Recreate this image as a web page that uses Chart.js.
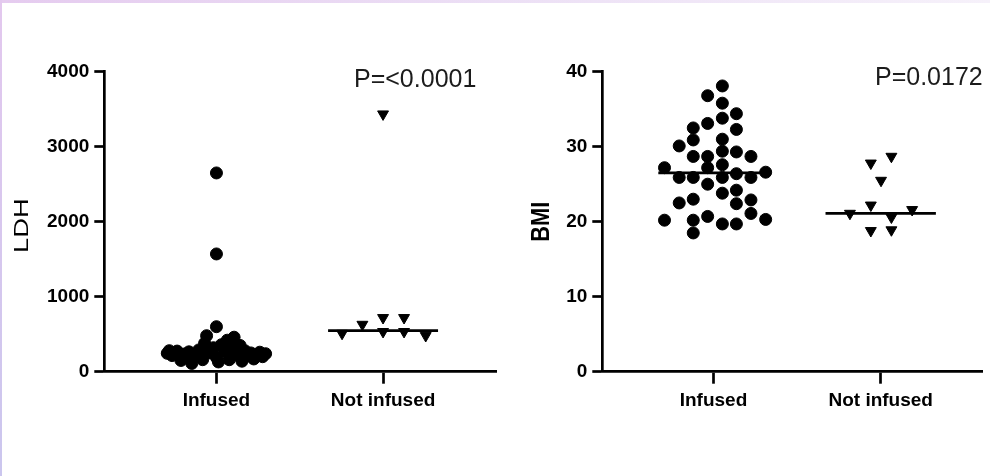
<!DOCTYPE html>
<html lang="en">
<head>
  <meta charset="UTF-8">
  <title>LDH and BMI, infused vs not infused</title>
  <script src="https://cdn.jsdelivr.net/npm/chart.js"></script>
  <style>
    body {
      margin: 0;
      width: 990px;
      height: 476px;
      background: #ffffff;
      position: relative;
      overflow: hidden;
    }
    .edge-top {
      position: absolute; left: 0; top: 0;
      width: 990px; height: 3px;
      background: linear-gradient(to right, #e5cbef, #ecdff5 50%, #f6f1fa);
    }
    .edge-left {
      position: absolute; left: 0; top: 0;
      width: 2px; height: 476px;
      background: linear-gradient(to bottom, #e3c8ee, #cbc6ee);
    }
    canvas { position: absolute; top: 0; }
    #ldhChart { left: 0; }
    #bmiChart { left: 503px; }
  </style>
</head>
<body>
  <canvas id="ldhChart" width="504" height="476"></canvas>
  <canvas id="bmiChart" width="487" height="476"></canvas>
  <div class="edge-top"></div>
  <div class="edge-left"></div>

  <script>
    // Groups on the x axis
    const groups = ['Infused', 'Not infused'];

    // LDH - infused (values, and horizontal spread in group units)
    const ldhInfused = [2650, 1570, 600,
      245, 280, 215, 275, 150, 235, 190, 265, 110, 200, 290, 160, 380, 480, 250, 320,
      190, 130, 360, 270, 420, 160, 310, 460, 220, 350, 140, 280, 210, 250, 170, 230,
      260, 200, 240, 215, 225];
    const ldhInfusedSpread = [0, 0, 0,
      -0.295, -0.283, -0.266, -0.236, -0.213, -0.195, -0.177, -0.165, -0.148, -0.130, -0.106, -0.083, -0.071, -0.059, -0.045, -0.018,
      0, 0.012, 0.030, 0.047, 0.065, 0.077, 0.094, 0.106, 0.124, 0.142, 0.153, 0.171, 0.189, 0.207, 0.224, 0.242,
      0.260, 0.277, 0.295, 0.250, 0.215];
    // LDH - not infused
    const ldhNotInfused = [3435, 510, 630, 720, 534, 720, 534, 480];
    const ldhNotInfusedSpread = [0, -0.246, -0.124, 0, 0, 0.126, 0.126, 0.256];
    const ldhMedians = [240, 547];

    // BMI - infused
    const bmiInfused = [
      27.2, 20.2,
      30.1, 25.9, 22.5,
      32.5, 30.9, 28.7, 25.9, 23.0, 20.2, 18.5,
      36.8, 33.1, 28.7, 27.2, 25.0, 20.7,
      38.1, 35.8, 33.8, 31.0, 29.4, 27.6, 25.9, 23.8, 19.7,
      34.4, 32.3, 29.3, 26.4, 24.2, 22.4, 19.7,
      28.7, 25.9, 22.9, 21.1,
      26.6, 20.3];
    const bmiInfusedSpread = [
      -0.293, -0.293,
      -0.205, -0.205, -0.205,
      -0.121, -0.121, -0.121, -0.121, -0.121, -0.121, -0.121,
      -0.035, -0.035, -0.035, -0.035, -0.035, -0.035,
      0.053, 0.053, 0.053, 0.053, 0.053, 0.053, 0.053, 0.053, 0.053,
      0.137, 0.137, 0.137, 0.137, 0.137, 0.137, 0.137,
      0.224, 0.224, 0.224, 0.224,
      0.312, 0.312];
    // BMI - not infused
    const bmiNotInfused = [27.8, 28.7, 25.5, 22.2, 21.1, 20.6, 21.6, 18.8, 18.9];
    const bmiNotInfusedSpread = [-0.059, 0.064, 0.002, -0.059, -0.184, 0.064, 0.188, -0.059, 0.064];
    const bmiMedians = [26.5, 21.1];

    const pValues = ['P=<0.0001', 'P=0.0172'];

    const medianHalf = 0.33;
    const tickFont = { family: '"Liberation Sans", Arial, sans-serif', size: 19, weight: 'bold' };

    function swarm(values, spread, groupIndex) {
      return values.map((v, i) => ({ x: groupIndex + 1 + spread[i], y: v }));
    }

    function medianLine(m, groupIndex) {
      return [{ x: groupIndex + 1 - medianHalf, y: m }, { x: groupIndex + 1 + medianHalf, y: m }];
    }

    // axis title + p value, drawn by hand so the squashed look can be kept
    const annotations = {
      id: 'annotations',
      afterDraw(chart, args, opts) {
        const ctx = chart.ctx;
        ctx.save();
        ctx.translate(opts.titleX, opts.titleY);
        ctx.rotate(-Math.PI / 2);
        ctx.scale(opts.stretch, 1);
        ctx.font = opts.titleFont;
        ctx.fillStyle = '#000';
        ctx.textAlign = 'center';
        ctx.textBaseline = 'middle';
        ctx.fillText(opts.title, 0, 0);
        ctx.restore();

        ctx.save();
        ctx.font = '25px "Liberation Sans", Arial, sans-serif';
        ctx.fillStyle = '#1c1c1c';
        ctx.textAlign = 'left';
        ctx.textBaseline = 'alphabetic';
        ctx.fillText(opts.pText, opts.pX, opts.pY);
        ctx.restore();
      }
    };

    function makeChart(id, cfg) {
      return new Chart(document.getElementById(id), {
        type: 'scatter',
        data: {
          datasets: [
            { type: 'line', data: medianLine(cfg.medians[0], 0), borderColor: '#000', borderWidth: 2.7, pointRadius: 0, fill: false },
            { type: 'line', data: medianLine(cfg.medians[1], 1), borderColor: '#000', borderWidth: 2.7, pointRadius: 0, fill: false },
            {
              data: swarm(cfg.a, cfg.aSpread, 0),
              pointStyle: 'circle', pointRadius: 6, borderWidth: 1,
              backgroundColor: '#000', borderColor: '#000'
            },
            {
              data: swarm(cfg.b, cfg.bSpread, 1),
              pointStyle: 'triangle', pointRotation: 180, pointRadius: 6.3, borderWidth: 1,
              backgroundColor: '#000', borderColor: '#000'
            }
          ]
        },
        options: {
          responsive: false,
          animation: false,
          events: [],
          layout: { padding: { top: 71.7, left: 0, right: cfg.padRight, bottom: 0 } },
          plugins: {
            legend: { display: false },
            tooltip: { enabled: false },
            annotations: cfg.annotations
          },
          scales: {
            x: {
              type: 'linear',
              min: cfg.xMin,
              max: cfg.xMax,
              afterBuildTicks: s => { s.ticks = groups.map((g, i) => ({ value: i + 1 })); },
              ticks: {
                callback: v => groups[Math.round(v) - 1],
                color: '#000', font: tickFont, padding: 6, autoSkip: false, maxRotation: 0
              },
              grid: { drawOnChartArea: false, tickLength: 12, tickWidth: 2.7, tickColor: '#000' },
              border: { display: true, color: '#000', width: 2.7 },
              afterFit: s => { s.height = 476 - 371.7; }
            },
            y: {
              min: 0,
              max: cfg.yMax,
              ticks: { stepSize: cfg.yStep, color: '#000', font: tickFont, padding: 5, callback: v => String(v) },
              grid: { drawOnChartArea: false, tickLength: 10, tickWidth: 2.7, tickColor: '#000' },
              border: { display: true, color: '#000', width: 2.7 },
              afterFit: s => { s.width = cfg.yWidth; }
            }
          }
        },
        plugins: [annotations]
      });
    }

    makeChart('ldhChart', {
      a: ldhInfused, aSpread: ldhInfusedSpread,
      b: ldhNotInfused, bSpread: ldhNotInfusedSpread,
      medians: ldhMedians,
      xMin: 0.327, xMax: 2.682, yMax: 4000, yStep: 1000,
      yWidth: 104.3, padRight: 0.7,
      annotations: {
        title: 'LDH', titleFont: '20px "Liberation Sans", Arial, sans-serif', stretch: 1.37,
        titleX: 22, titleY: 225.5,
        pText: pValues[0], pX: 354, pY: 86.7
      }
    });

    makeChart('bmiChart', {
      a: bmiInfused, aSpread: bmiInfusedSpread,
      b: bmiNotInfused, bSpread: bmiNotInfusedSpread,
      medians: bmiMedians,
      xMin: 0.335, xMax: 2.61, yMax: 40, yStep: 10,
      yWidth: 99.3, padRight: 0,
      annotations: {
        title: 'BMI', titleFont: 'bold 25px "Liberation Sans", Arial, sans-serif', stretch: 0.87,
        titleX: 39.5, titleY: 221.7,
        pText: pValues[1], pX: 372, pY: 85
      }
    });
  </script>
</body>
</html>
